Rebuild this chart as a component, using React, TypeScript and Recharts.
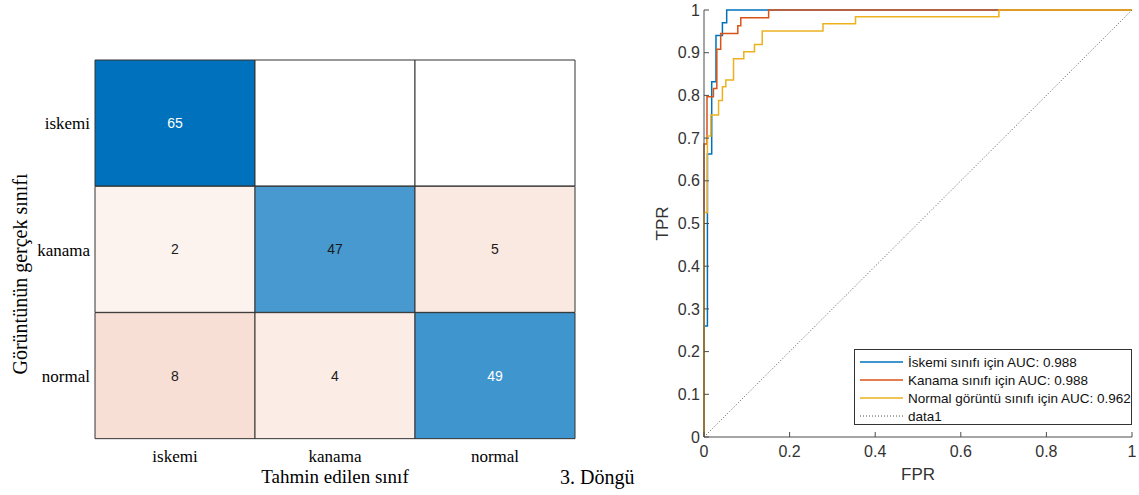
import * as React from "react"
import {
  BarChart,
  Bar,
  Cell,
  LabelList,
  LineChart,
  Line,
  XAxis,
  YAxis,
  Legend,
  Label,
} from "recharts"

const SERIF = "'Liberation Serif', 'Times New Roman', serif"
const SANS = "'Liberation Sans', Arial, Helvetica, sans-serif"

// confusion matrix: rows = true class, columns = predicted class
const classes = ["iskemi", "kanama", "normal"]
const iskemiRow = [65, 0, 0]
const kanamaRow = [2, 47, 5]
const normalRow = [8, 4, 49]
const matrixRows = [iskemiRow, kanamaRow, normalRow]
const matrixMax = 65

// ROC curves as [FPR, TPR] vertices
const iskemiRoc = [
  [0, 0], [0, 0.26], [0.008, 0.26], [0.008, 0.663], [0.018, 0.663], [0.018, 0.832],
  [0.028, 0.832], [0.028, 0.94], [0.043, 0.94], [0.043, 0.97], [0.053, 0.97], [0.053, 1], [1, 1],
]
const kanamaRoc = [
  [0, 0], [0, 0.686], [0.007, 0.686], [0.007, 0.797], [0.022, 0.797], [0.022, 0.816],
  [0.03, 0.816], [0.03, 0.908], [0.039, 0.908], [0.039, 0.945], [0.079, 0.945], [0.079, 0.963],
  [0.086, 0.963], [0.086, 0.982], [0.151, 0.982], [0.151, 1], [1, 1],
]
const normalRoc = [
  [0, 0], [0, 0.526], [0.008, 0.526], [0.008, 0.705], [0.016, 0.705], [0.016, 0.754],
  [0.034, 0.754], [0.034, 0.788], [0.043, 0.788], [0.043, 0.82], [0.051, 0.82], [0.051, 0.836],
  [0.069, 0.836], [0.069, 0.886], [0.093, 0.886], [0.093, 0.902], [0.118, 0.902], [0.118, 0.919],
  [0.136, 0.919], [0.136, 0.951], [0.278, 0.951], [0.278, 0.968], [0.354, 0.968], [0.354, 0.984],
  [0.689, 0.984], [0.689, 1], [1, 1],
]
const chanceRoc = [[0, 0], [1, 1]]

const rocNames = [
  "İskemi sınıfı için AUC: 0.988",
  "Kanama sınıfı için AUC: 0.988",
  "Normal görüntü sınıfı için AUC: 0.962",
  "data1",
]
const fprTicks = [0, 0.2, 0.4, 0.6, 0.8, 1]
const tprTicks = [0, 0.1, 0.2, 0.3, 0.4, 0.5, 0.6, 0.7, 0.8, 0.9, 1]

const toPoints = (pts: number[][]) => pts.map(([fpr, tpr]) => ({ fpr, tpr }))

const matrixData = classes.map((name, r) => ({
  actual: name,
  p0: 1,
  p1: 1,
  p2: 1,
  c0: matrixRows[r][0],
  c1: matrixRows[r][1],
  c2: matrixRows[r][2],
}))

const mix = (rgb: number[], t: number) => {
  const c = rgb.map((v) => Math.round(255 + (v - 255) * t))
  return `rgb(${c[0]},${c[1]},${c[2]})`
}

const cellShade = (r: number, c: number) => {
  const v = matrixRows[r][c]
  if (v === 0) return 0
  return r === c ? v / matrixMax : 0.04 + v * 0.018
}

const cellColor = (r: number, c: number) => {
  const v = matrixRows[r][c]
  if (v === 0) return "#ffffff"
  return r === c ? mix([0, 114, 189], cellShade(r, c)) : mix([217, 83, 25], cellShade(r, c))
}

const countLabel = (c: number) => (props: any) => {
  const { x, y, width, height, value, index } = props
  if (!value) return null
  const light = index === c && cellShade(index, c) >= 0.74
  return (
    <text
      x={Number(x) + Number(width) / 2}
      y={Number(y) + Number(height) / 2}
      textAnchor="middle"
      dominantBaseline="central"
      fontSize={14}
      fontFamily={SANS}
      fill={light ? "#ffffff" : "#1a1a1a"}
    >
      {value}
    </text>
  )
}

const MatrixChart = () => (
  <BarChart
    width={640}
    height={495}
    layout="vertical"
    data={matrixData}
    margin={{ top: 60, right: 65, left: 0, bottom: 0 }}
    barCategoryGap={0}
    barGap={0}
  >
    <XAxis
      type="number"
      domain={[0, 3]}
      ticks={[0.5, 1.5, 2.5]}
      interval={0}
      tickFormatter={(v: number) => classes[Math.floor(v)]}
      axisLine={false}
      tickLine={false}
      tickSize={0}
      tickMargin={11}
      height={56}
      tick={{ fontSize: 17, fontFamily: SERIF, fill: "#000" }}
    >
      <Label
        content={(p: any) => {
          const vb = p.viewBox
          return (
            <g>
              <text x={vb.x + vb.width / 2} y={483} textAnchor="middle" fontSize={19} fontFamily={SERIF} fill="#000">
                Tahmin edilen sınıf
              </text>
              <text x={560} y={484} textAnchor="start" fontSize={20} fontFamily={SERIF} fill="#000">
                3. Döngü
              </text>
            </g>
          )
        }}
      />
    </XAxis>
    <YAxis
      type="category"
      dataKey="actual"
      width={95}
      axisLine={false}
      tickLine={false}
      tickSize={0}
      tickMargin={5}
      tick={{ fontSize: 17, fontFamily: SERIF, fill: "#000" }}
    >
      <Label
        content={() => (
          <text
            x={0}
            y={0}
            transform="translate(27 274) rotate(-90)"
            textAnchor="middle"
            fontSize={20}
            fontFamily={SERIF}
            fill="#000"
          >
            Görüntünün gerçek sınıfı
          </text>
        )}
      />
    </YAxis>
    {classes.map((_, c) => (
      <Bar
        key={c}
        dataKey={`p${c}`}
        stackId="m"
        stroke="#333333"
        strokeWidth={1}
        isAnimationActive={false}
      >
        {classes.map((__, r) => (
          <Cell key={r} fill={cellColor(r, c)} />
        ))}
        <LabelList dataKey={`c${c}`} content={countLabel(c)} />
      </Bar>
    ))}
  </BarChart>
)

const RocLegend = (props: any) => {
  // keep the plotting order, not the alphabetical one
  const items = [...(props.payload || [])].sort(
    (a: any, b: any) => rocNames.indexOf(a.value) - rocNames.indexOf(b.value)
  )
  return (
    <div
      style={{
        position: "absolute",
        left: 0,
        top: 0,
        width: 276,
        height: 74,
        background: "#fff",
        border: "1px solid #333",
        fontFamily: SANS,
        fontSize: 13.5,
        color: "#111",
      }}
    >
      {items.map((it: any, i: number) => (
        <div
          key={i}
          style={{ position: "absolute", left: 5, top: 3 + i * 18, height: 18, display: "flex", alignItems: "center", whiteSpace: "nowrap" }}
        >
          <svg width={44} height={18} style={{ marginRight: 4 }}>
            <line
              x1={0}
              y1={9}
              x2={43}
              y2={9}
              stroke={it.color}
              strokeWidth={it.payload?.strokeDasharray ? 1 : 1.5}
              strokeDasharray={it.payload?.strokeDasharray}
            />
          </svg>
          <span>{it.value}</span>
        </div>
      ))}
    </div>
  )
}

const RocChart = () => (
  <LineChart width={499} height={495} margin={{ top: 10, right: 7, left: 0, bottom: 0 }}>
    <XAxis
      type="number"
      dataKey="fpr"
      domain={[0, 1]}
      ticks={fprTicks}
      interval={0}
      height={58}
      stroke="#4d4d4d"
      tickSize={-5}
      tickMargin={14}
      tick={{ fontSize: 16, fontFamily: SANS, fill: "#333" }}
    >
      <Label
        content={(p: any) => {
          const vb = p.viewBox
          return (
            <text x={vb.x + vb.width / 2} y={480} textAnchor="middle" fontSize={17} fontFamily={SANS} fill="#333">
              FPR
            </text>
          )
        }}
      />
    </XAxis>
    <YAxis
      type="number"
      domain={[0, 1]}
      ticks={tprTicks}
      interval={0}
      width={64}
      stroke="#4d4d4d"
      tickSize={-5}
      tickMargin={9}
      tick={{ fontSize: 16, fontFamily: SANS, fill: "#333" }}
    >
      <Label
        content={(p: any) => {
          const vb = p.viewBox
          return (
            <text
              x={0}
              y={0}
              transform={`translate(28 ${vb.y + vb.height / 2}) rotate(-90)`}
              textAnchor="middle"
              fontSize={17}
              fontFamily={SANS}
              fill="#333"
            >
              TPR
            </text>
          )
        }}
      />
    </YAxis>
    <Line data={toPoints(iskemiRoc)} dataKey="tpr" name={rocNames[0]} type="linear" stroke="#0072BD" strokeWidth={1.5} dot={false} isAnimationActive={false} />
    <Line data={toPoints(kanamaRoc)} dataKey="tpr" name={rocNames[1]} type="linear" stroke="#D95319" strokeWidth={1.5} dot={false} isAnimationActive={false} />
    <Line data={toPoints(normalRoc)} dataKey="tpr" name={rocNames[2]} type="linear" stroke="#EDB120" strokeWidth={1.5} dot={false} isAnimationActive={false} />
    <Line data={toPoints(chanceRoc)} dataKey="tpr" name={rocNames[3]} type="linear" stroke="#555" strokeWidth={1} strokeDasharray="1 2" dot={false} isAnimationActive={false} />
    <Legend
      content={RocLegend}
      wrapperStyle={{ left: 214, top: 349, width: 0, height: 0, overflow: "visible" }}
    />
  </LineChart>
)

export default function App() {
  return (
    <div style={{ width: 1139, height: 495, display: "flex", background: "#fff" }}>
      <style>{"body{margin:0}"}</style>
      <MatrixChart />
      <RocChart />
    </div>
  )
}
